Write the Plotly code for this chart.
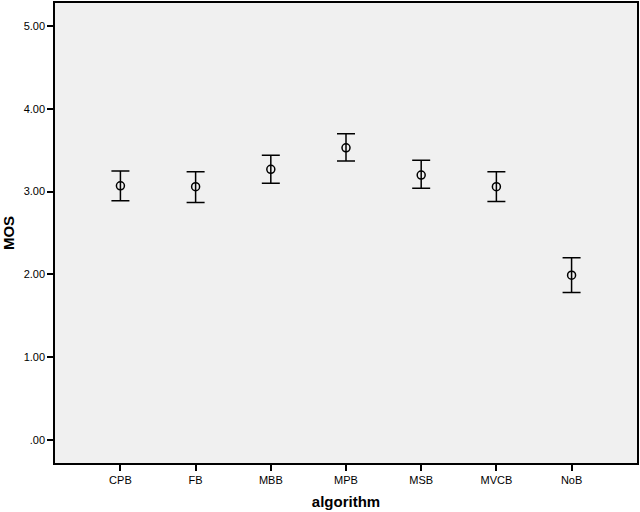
import plotly.graph_objects as go

# algorithm categories and MOS means with error bar ends
algorithms = ["CPB", "FB", "MBB", "MPB", "MSB", "MVCB", "NoB"]
mos_mean = [3.07, 3.06, 3.27, 3.53, 3.20, 3.06, 1.99]
mos_upper = [3.25, 3.24, 3.44, 3.70, 3.38, 3.24, 2.20]
mos_lower = [2.89, 2.87, 3.10, 3.37, 3.04, 2.88, 1.78]

y_ticks = [0, 1, 2, 3, 4, 5]
y_tick_labels = [".00", "1.00", "2.00", "3.00", "4.00", "5.00"]

err_plus = [u - m for u, m in zip(mos_upper, mos_mean)]
err_minus = [m - l for m, l in zip(mos_mean, mos_lower)]

fig = go.Figure()
fig.add_trace(go.Scatter(
    x=list(range(len(algorithms))),
    y=mos_mean,
    mode="markers",
    marker=dict(symbol="circle-open", size=8, color="black", line=dict(width=1.5)),
    error_y=dict(type="data", symmetric=False, array=err_plus, arrayminus=err_minus,
                 color="black", thickness=1.5, width=9),
    showlegend=False,
))

fig.update_layout(
    width=640, height=512,
    margin=dict(l=55, r=2, t=1, b=49),
    paper_bgcolor="white",
    plot_bgcolor="#F0F0F0",
    font=dict(family="Liberation Sans, Arial, sans-serif", color="black", size=11),
)
fig.update_xaxes(
    range=[-0.87, 6.87],
    tickvals=list(range(len(algorithms))),
    ticktext=algorithms,
    ticks="outside", ticklen=6, tickwidth=1.5, tickcolor="black",
    showline=True, linecolor="black", linewidth=1.5, mirror=True,
    showgrid=False, zeroline=False,
    title=dict(text="<b>algorithm</b>", font=dict(size=15), standoff=12),
)
fig.update_yaxes(
    range=[-0.28, 5.28],
    tickvals=y_ticks,
    ticktext=y_tick_labels,
    ticks="outside", ticklen=6, tickwidth=1.5, tickcolor="black",
    showline=True, linecolor="black", linewidth=1.5, mirror=True,
    showgrid=False, zeroline=False,
    title=dict(text="<b>MOS</b>", font=dict(size=15), standoff=8),
)

# page has a default body margin; drop it so the figure sits at the corner
fig.write_html("out.html", config={"displayModeBar": False},
               post_script="document.body.style.margin='0';")
